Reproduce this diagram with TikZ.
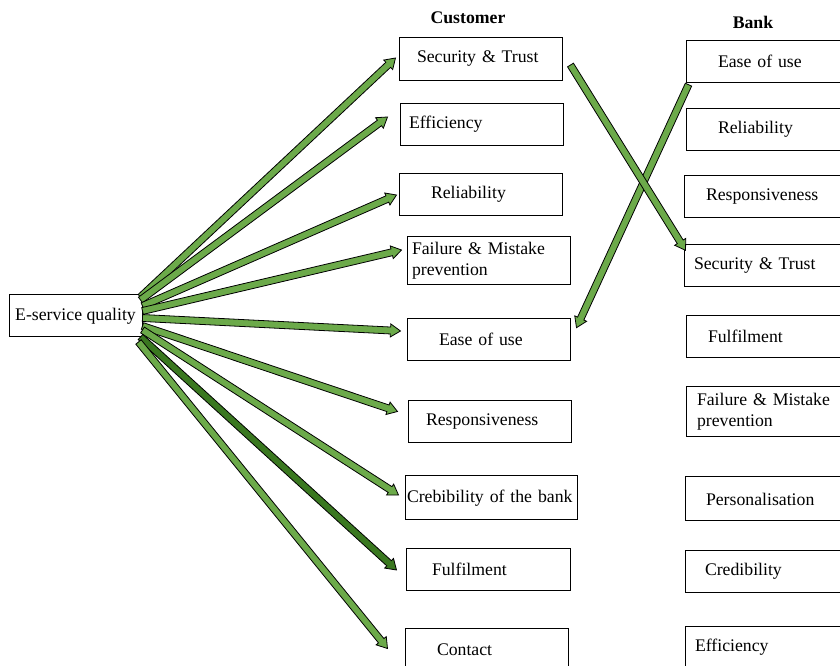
\documentclass[tikz,border=0pt]{standalone}
\usepackage{fontspec}
\setmainfont{Liberation Serif}
\usetikzlibrary{calc}

\definecolor{arrowgreen}{RGB}{108,170,74}
\definecolor{darkgreen}{RGB}{58,120,32}
\newcommand{\boxfont}{\fontsize{13.3}{15.75}\selectfont}

\tikzset{
  box/.style={draw, line width=0.75pt, align=left, inner ysep=0pt, minimum height=32pt, font=\boxfont},
  pad/.code 2 args={\pgfmathsetmacro\padx{#1*0.75}\pgfmathsetmacro\padw{(#2-2*#1)*0.75}%
    \tikzset{inner xsep=\padx pt, text width=\padw pt}},
  head/.style={font=\boxfont\bfseries},
}

% block arrow: green body with a black outline
\newcommand{\blockarrow}[3][arrowgreen]{%
  \coordinate (arr-s) at (#2);
  \coordinate (arr-e) at (#3);
  \coordinate (arr-b) at ($(arr-e)!7.5pt!(arr-s)$);
  \filldraw[fill=#1, draw=black, line width=0.6pt]
    ($(arr-s)!2.6pt!90:(arr-e)$) -- ($(arr-b)!2.6pt!-90:(arr-s)$) -- ($(arr-b)!4.9pt!-90:(arr-s)$)
    -- (arr-e) -- ($(arr-b)!4.9pt!90:(arr-s)$) -- ($(arr-b)!2.6pt!90:(arr-s)$)
    -- ($(arr-s)!2.6pt!-90:(arr-e)$) -- cycle;
}

\begin{document}
\begin{tikzpicture}[x=0.75pt, y=-0.75pt]
        \useasboundingbox (0,0) rectangle (840,666);
        \clip (0,0) rectangle (840,666);

        \node[head] (cust) at (468,18) {Customer};
        \node[head] (bank) at (753,22) {Bank};

        \node[box, minimum width=99.75pt, minimum height=31.5pt, align=center] (eq) at (75.5,316) {E-service quality};

        % customer side
        \node[box, pad={18}{163}] (c1) at (480.5,59) {Security \& Trust};
        \node[box, pad={9}{163}] (c2) at (481.5,124.5) {Efficiency};
        \node[box, pad={32}{163}] (c3) at (480.5,194.5) {Reliability};
        \node[box, pad={5}{163}, minimum height=36pt] (c4) at (488.5,261) {Failure \& Mistake\\prevention};
        \node[box, pad={32}{163}] (c5) at (488.5,339.5) {Ease of use};
        \node[box, pad={18}{163}] (c6) at (489.5,421.5) {Responsiveness};
        \node[box, pad={2}{172}, minimum height=33pt] (c7) at (491,498) {Crebibility of the bank};
        \node[box, pad={26}{164}] (c8) at (488,569.5) {Fulfilment};
        \node[box, pad={32}{163}] (c9) at (486.5,649.5) {Contact};

        % bank side
        \node[box, pad={32}{163}, minimum height=31pt] (b1) at (767.5,61.5) {Ease of use};
        \node[box, pad={32}{163}] (b2) at (767.5,129.5) {Reliability};
        \node[box, pad={22}{163}] (b3) at (765.5,196.5) {Responsiveness};
        \node[box, pad={10}{163}, minimum height=31pt] (b4) at (765.5,265.5) {Security \& Trust};
        \node[box, pad={22}{163}] (b5) at (767.5,336.5) {Fulfilment};
        \node[box, pad={11}{163}, minimum height=37pt] (b6) at (767.5,411.5) {Failure \& Mistake\\prevention};
        \node[box, pad={21}{163}, minimum height=33pt] (b7) at (766.5,499) {Personalisation};
        \node[box, pad={20}{163}, minimum height=31pt] (b8) at (766.5,571.5) {Credibility};
        \node[box, pad={10}{163}] (b9) at (766.5,647.5) {Efficiency};

        % fan out of e-service quality
        \blockarrow{$(eq.east)+(-2,-19)$}{$(c1.west)+(-3,-1)$}
        \blockarrow{$(eq.east)+(-2,-16)$}{$(c2.west)+(-12,-7.5)$}
        \blockarrow{$(eq.east)+(0,-10)$}{$(c3.west)+(-2,0.5)$}
        \blockarrow{$(eq.east)+(0,-5)$}{$(c4.west)+(-5,-11)$}
        \blockarrow{$(eq.east)+(0,2)$}{$(c5.west)+(-6,-8.5)$}
        \blockarrow{$(eq.east)+(0,10)$}{$(c6.west)+(-10,-10)$}
        \blockarrow{$(eq.east)+(0,14)$}{$(c7.west)+(-6,-3)$}
        \blockarrow[darkgreen]{$(eq.east)+(-2,21)$}{$(c8.west)+(-9,0.5)$}
        \blockarrow{$(eq.east)+(-4,26)$}{$(c9.west)+(-17,-1)$}

        % crossing between the two sides
        \blockarrow{$(b1.south west)+(3,2)$}{$(c5.north east)+(6,10)$}
        \blockarrow{$(c1.east)+(8,6)$}{$(b4.north west)+(2,6)$}
      \end{tikzpicture}
\end{document}
